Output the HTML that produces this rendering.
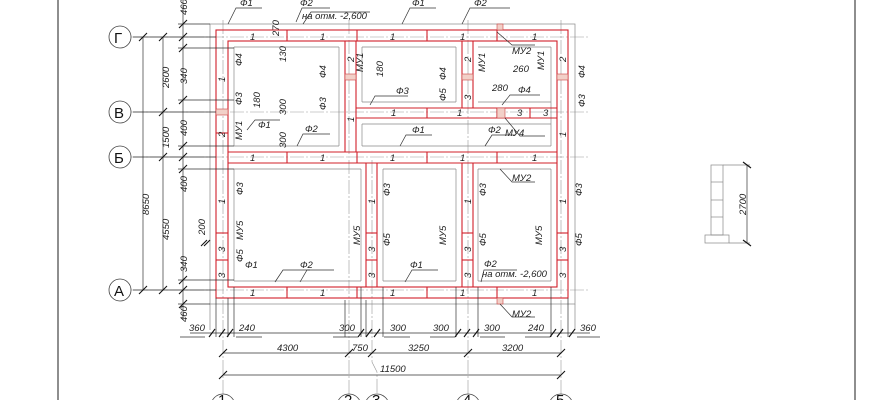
<!DOCTYPE html>
<html><head><meta charset="utf-8"><style>
html,body{margin:0;padding:0;background:#fff;}
svg{display:block}
text{font-family:"Liberation Sans",sans-serif;font-style:italic;font-size:9.5px;fill:#222}
text.b{font-size:15px;font-style:normal;fill:#111}
.g{stroke:#888;stroke-width:0.7;fill:none}
.k{stroke:#333;stroke-width:0.7;fill:none}
.r{stroke:#d0202a;stroke-width:1.1;fill:none}
.t{stroke:#111;stroke-width:1.1}
.ax{stroke:#999;stroke-width:0.6;stroke-dasharray:14 2 2 2;fill:none}
.h{fill:#f2d0c8;stroke:#c44;stroke-width:0.6}
</style></head><body>
<svg width="870" height="400" viewBox="0 0 870 400" xmlns="http://www.w3.org/2000/svg">
<line x1="58" y1="0" x2="58" y2="400" stroke="#444" stroke-width="1.2"/>
<line x1="855" y1="0" x2="855" y2="400" stroke="#444" stroke-width="1.2"/>

<line class="ax" x1="130" y1="37" x2="590" y2="37"/>
<line class="ax" x1="130" y1="112" x2="590" y2="112"/>
<line class="ax" x1="130" y1="157" x2="590" y2="157"/>
<line class="ax" x1="130" y1="290" x2="590" y2="290"/>
<line class="ax" x1="223" y1="20" x2="223" y2="395"/>
<line class="ax" x1="349" y1="20" x2="349" y2="395"/>
<polyline class="ax" points="372,160 372,362 377,372 377,395"/>
<line class="ax" x1="468" y1="20" x2="468" y2="395"/>
<line class="ax" x1="561" y1="20" x2="561" y2="395"/>

<g class="g">
<rect x="210" y="24" width="365" height="280"/>
<line x1="234" y1="47" x2="234" y2="146"/><line x1="339" y1="47" x2="339" y2="146"/>
<line x1="234" y1="169" x2="234" y2="281"/><line x1="361" y1="169" x2="361" y2="281"/>
<line x1="234" y1="47" x2="339" y2="47"/><line x1="234" y1="146" x2="339" y2="146"/>
<line x1="234" y1="169" x2="361" y2="169"/><line x1="234" y1="281" x2="361" y2="281"/>
<line x1="362" y1="47" x2="456" y2="47"/><line x1="362" y1="102" x2="456" y2="102"/><line x1="362" y1="47" x2="362" y2="102"/><line x1="456" y1="47" x2="456" y2="102"/>
<line x1="478" y1="47" x2="551" y2="47"/><line x1="478" y1="102" x2="551" y2="102"/><line x1="551" y1="47" x2="551" y2="146"/>
<line x1="362" y1="124" x2="551" y2="124"/><line x1="362" y1="146" x2="551" y2="146"/><line x1="362" y1="124" x2="362" y2="146"/>
<line x1="383" y1="169" x2="456" y2="169"/><line x1="383" y1="281" x2="456" y2="281"/><line x1="383" y1="169" x2="383" y2="281"/><line x1="456" y1="169" x2="456" y2="281"/>
<line x1="478" y1="169" x2="551" y2="169"/><line x1="478" y1="281" x2="551" y2="281"/><line x1="478" y1="169" x2="478" y2="281"/><line x1="551" y1="169" x2="551" y2="281"/>
<line x1="210" y1="330" x2="210" y2="304"/><line x1="575" y1="330" x2="575" y2="304"/>
</g>

<g class="r">
<rect x="216" y="30" width="352" height="268"/>
<rect x="228" y="41" width="329" height="246"/>
<line x1="287" y1="30" x2="287" y2="41"/><line x1="357" y1="30" x2="357" y2="41"/><line x1="427" y1="30" x2="427" y2="41"/><line x1="497" y1="30" x2="497" y2="41"/>
<line x1="228" y1="152" x2="557" y2="152"/><line x1="228" y1="163" x2="557" y2="163"/>
<line x1="287" y1="152" x2="287" y2="163"/><line x1="357" y1="152" x2="357" y2="163"/><line x1="427" y1="152" x2="427" y2="163"/><line x1="497" y1="152" x2="497" y2="163"/>
<line x1="287" y1="287" x2="287" y2="298"/><line x1="357" y1="287" x2="357" y2="298"/><line x1="427" y1="287" x2="427" y2="298"/><line x1="497" y1="287" x2="497" y2="298"/>
<line x1="356" y1="108" x2="557" y2="108"/><line x1="356" y1="118" x2="557" y2="118"/>
<line x1="427" y1="108" x2="427" y2="118"/><line x1="497" y1="108" x2="497" y2="118"/><line x1="530" y1="108" x2="530" y2="118"/>
<line x1="345" y1="41" x2="345" y2="152"/><line x1="356" y1="41" x2="356" y2="152"/>
<line x1="462" y1="41" x2="462" y2="108"/><line x1="473" y1="41" x2="473" y2="108"/>
<line x1="366" y1="163" x2="366" y2="287"/><line x1="377" y1="163" x2="377" y2="287"/>
<line x1="462" y1="163" x2="462" y2="287"/><line x1="473" y1="163" x2="473" y2="287"/>
<line x1="216" y1="133" x2="228" y2="133"/><line x1="216" y1="233" x2="228" y2="233"/><line x1="216" y1="260" x2="228" y2="260"/>
<line x1="366" y1="233" x2="377" y2="233"/><line x1="366" y1="260" x2="377" y2="260"/>
<line x1="462" y1="233" x2="473" y2="233"/><line x1="462" y1="260" x2="473" y2="260"/>
<line x1="557" y1="233" x2="568" y2="233"/><line x1="557" y1="260" x2="568" y2="260"/>
<line x1="345" y1="77" x2="356" y2="77"/><line x1="462" y1="77" x2="473" y2="77"/><line x1="557" y1="77" x2="568" y2="77"/>
</g>
<rect class="h" x="216" y="109" width="12" height="6"/>
<rect class="h" x="345" y="74" width="11" height="6"/>
<rect class="h" x="462" y="74" width="11" height="6"/>
<rect class="h" x="557" y="74" width="11" height="6"/>
<rect class="h" x="497" y="108" width="8" height="10"/>
<rect class="h" x="497" y="24" width="6" height="6"/>
<rect class="h" x="497" y="298" width="6" height="6"/>

<g>
<text x="250" y="40">1</text><text x="320" y="40">1</text><text x="390" y="40">1</text><text x="460" y="40">1</text><text x="532" y="40">1</text>
<text x="250" y="161">1</text><text x="320" y="161">1</text><text x="390" y="161">1</text><text x="460" y="161">1</text><text x="532" y="161">1</text>
<text x="250" y="296">1</text><text x="320" y="296">1</text><text x="390" y="296">1</text><text x="460" y="296">1</text><text x="532" y="296">1</text>
<text x="391" y="116">1</text><text x="457" y="116">1</text><text x="517" y="116">3</text><text x="543" y="116">3</text>
</g>
<g>
<text transform="translate(225,82) rotate(-90)">1</text>
<text transform="translate(225,137) rotate(-90)">2</text>
<text transform="translate(225,204) rotate(-90)">1</text>
<text transform="translate(225,252) rotate(-90)">3</text>
<text transform="translate(225,278) rotate(-90)">3</text>
<text transform="translate(354,62) rotate(-90)">2</text>
<text transform="translate(354,122) rotate(-90)">1</text>
<text transform="translate(471,62) rotate(-90)">2</text>
<text transform="translate(471,100) rotate(-90)">3</text>
<text transform="translate(566,62) rotate(-90)">2</text>
<text transform="translate(566,137) rotate(-90)">1</text>
<text transform="translate(375,204) rotate(-90)">1</text><text transform="translate(375,252) rotate(-90)">3</text><text transform="translate(375,278) rotate(-90)">3</text>
<text transform="translate(471,204) rotate(-90)">1</text><text transform="translate(471,252) rotate(-90)">3</text><text transform="translate(471,278) rotate(-90)">3</text>
<text transform="translate(566,204) rotate(-90)">1</text><text transform="translate(566,252) rotate(-90)">3</text><text transform="translate(566,278) rotate(-90)">3</text>
</g>

<g class="k">
<polyline points="228,24 236,8 262,8"/><polyline points="296,22 302,8 330,8"/>
<polyline points="303,24 311,12 370,12"/>
<polyline points="402,24 410,8 436,8"/><polyline points="462,24 470,8 510,8"/>
<polyline points="247,130 255,120 280,120"/><polyline points="297,146 303,134 330,134"/>
<polyline points="370,105 375,96 408,96"/><polyline points="400,146 406,135 432,135"/><polyline points="485,146 492,135 515,135"/>
<polyline points="502,105 510,95 540,95"/>
<polyline points="275,282 283,270 310,270"/><polyline points="300,282 307,270 334,270"/>
<polyline points="405,282 412,270 438,270"/><polyline points="481,282 484,270 517,270"/>
<polyline points="497,32 512,45 535,45"/><polyline points="505,118 520,136 545,136"/>
<polyline points="500,169 512,182 535,182"/><polyline points="500,304 512,317 535,317"/>
</g>
<g>
<text x="240" y="6">Ф1</text><text x="300" y="6">Ф2</text><text x="302" y="19">на отм. -2,600</text>
<text x="412" y="6">Ф1</text><text x="474" y="6">Ф2</text>
<text x="258" y="128">Ф1</text><text x="305" y="132">Ф2</text>
<text x="396" y="94">Ф3</text><text x="412" y="133">Ф1</text><text x="488" y="133">Ф2</text>
<text x="518" y="93">Ф4</text><text x="513" y="72">260</text><text x="492" y="91">280</text>
<text x="512" y="54">МУ2</text><text x="505" y="136">МУ4</text>
<text x="512" y="181">МУ2</text><text x="512" y="317">МУ2</text>
<text x="300" y="268">Ф2</text><text x="245" y="268">Ф1</text><text x="410" y="268">Ф1</text>
<text x="484" y="267">Ф2</text><text x="482" y="277">на отм. -2,600</text>
</g>
<g>
<text transform="translate(242,66) rotate(-90)">Ф4</text>
<text transform="translate(242,105) rotate(-90)">Ф3</text>
<text transform="translate(242,140) rotate(-90)">МУ1</text>
<text transform="translate(260,108) rotate(-90)">180</text>
<text transform="translate(286,62) rotate(-90)">130</text>
<text transform="translate(286,115) rotate(-90)">300</text>
<text transform="translate(286,148) rotate(-90)">300</text>
<text transform="translate(326,78) rotate(-90)">Ф4</text>
<text transform="translate(326,110) rotate(-90)">Ф3</text>
<text transform="translate(363,72) rotate(-90)">МУ1</text>
<text transform="translate(383,77) rotate(-90)">180</text>
<text transform="translate(446,80) rotate(-90)">Ф4</text>
<text transform="translate(446,101) rotate(-90)">Ф5</text>
<text transform="translate(485,72) rotate(-90)">МУ1</text>
<text transform="translate(544,70) rotate(-90)">МУ1</text>
<text transform="translate(585,78) rotate(-90)">Ф4</text>
<text transform="translate(585,107) rotate(-90)">Ф3</text>
<text transform="translate(243,195) rotate(-90)">Ф3</text>
<text transform="translate(243,240) rotate(-90)">МУ5</text>
<text transform="translate(243,262) rotate(-90)">Ф5</text>
<text transform="translate(360,245) rotate(-90)">МУ5</text>
<text transform="translate(390,196) rotate(-90)">Ф3</text>
<text transform="translate(390,246) rotate(-90)">Ф5</text>
<text transform="translate(446,245) rotate(-90)">МУ5</text>
<text transform="translate(486,196) rotate(-90)">Ф3</text>
<text transform="translate(486,246) rotate(-90)">Ф5</text>
<text transform="translate(542,245) rotate(-90)">МУ5</text>
<text transform="translate(582,196) rotate(-90)">Ф3</text>
<text transform="translate(582,246) rotate(-90)">Ф5</text>
<text transform="translate(279,36) rotate(-90)">270</text>
</g>

<g class="k">
<line x1="143" y1="37" x2="143" y2="290"/><line x1="163" y1="37" x2="163" y2="290"/><line x1="183" y1="0" x2="183" y2="320"/>
<line x1="133" y1="37" x2="216" y2="37"/><line x1="133" y1="112" x2="216" y2="112"/><line x1="133" y1="157" x2="216" y2="157"/><line x1="133" y1="290" x2="216" y2="290"/>
<line x1="178" y1="24" x2="210" y2="24"/><line x1="178" y1="48" x2="234" y2="48"/><line x1="178" y1="146" x2="234" y2="146"/><line x1="178" y1="169" x2="234" y2="169"/><line x1="178" y1="280" x2="234" y2="280"/><line x1="178" y1="304" x2="210" y2="304"/><line x1="178" y1="100" x2="234" y2="100"/>
</g>
<g class="t">
<line x1="139" y1="41" x2="147" y2="33"/><line x1="139" y1="294" x2="147" y2="286"/>
<line x1="159" y1="41" x2="167" y2="33"/><line x1="159" y1="116" x2="167" y2="108"/><line x1="159" y1="161" x2="167" y2="153"/><line x1="159" y1="294" x2="167" y2="286"/>
<line x1="179" y1="28" x2="187" y2="20"/><line x1="179" y1="41" x2="187" y2="33"/><line x1="179" y1="52" x2="187" y2="44"/><line x1="179" y1="104" x2="187" y2="96"/><line x1="179" y1="150" x2="187" y2="142"/><line x1="179" y1="161" x2="187" y2="153"/><line x1="179" y1="173" x2="187" y2="165"/><line x1="179" y1="284" x2="187" y2="276"/><line x1="179" y1="294" x2="187" y2="286"/><line x1="179" y1="308" x2="187" y2="300"/>
<line x1="201" y1="246" x2="207" y2="240"/><line x1="204" y1="246" x2="210" y2="240"/>
</g>
<g>
<text transform="translate(149,215) rotate(-90)">8650</text>
<text transform="translate(169,88) rotate(-90)">2600</text>
<text transform="translate(169,148) rotate(-90)">1500</text>
<text transform="translate(169,240) rotate(-90)">4550</text>
<text transform="translate(187,15) rotate(-90)">460</text>
<text transform="translate(187,84) rotate(-90)">340</text>
<text transform="translate(187,136) rotate(-90)">400</text>
<text transform="translate(187,192) rotate(-90)">400</text>
<text transform="translate(205,235) rotate(-90)">200</text>
<text transform="translate(187,272) rotate(-90)">340</text>
<text transform="translate(187,322) rotate(-90)">460</text>
</g>
<g fill="#fff" stroke="#444" stroke-width="0.8">
<circle cx="120" cy="37" r="11"/><circle cx="120" cy="112" r="11"/><circle cx="120" cy="157" r="11"/><circle cx="120" cy="290" r="11"/>
</g>
<text class="b" x="114" y="43">Г</text><text class="b" x="114" y="118">В</text><text class="b" x="114" y="163">Б</text><text class="b" x="114" y="296">А</text>

<g class="k">
<line x1="190" y1="333" x2="590" y2="333"/>
<line x1="223" y1="353" x2="561" y2="353"/>
<line x1="223" y1="375" x2="561" y2="375"/>
<line x1="216" y1="298" x2="216" y2="337"/><line x1="228" y1="298" x2="228" y2="337"/><line x1="234" y1="287" x2="234" y2="337"/>
<line x1="345" y1="300" x2="345" y2="337"/><line x1="361" y1="287" x2="361" y2="337"/><line x1="366" y1="300" x2="366" y2="337"/><line x1="383" y1="287" x2="383" y2="337"/>
<line x1="456" y1="287" x2="456" y2="337"/><line x1="478" y1="287" x2="478" y2="337"/>
<line x1="551" y1="287" x2="551" y2="337"/><line x1="568" y1="298" x2="568" y2="337"/>
</g>
<g class="t">
<line x1="209" y1="337" x2="215" y2="329"/><line x1="219" y1="337" x2="225" y2="329"/><line x1="227" y1="337" x2="233" y2="329"/>
<line x1="358" y1="337" x2="364" y2="329"/><line x1="366" y1="337" x2="372" y2="329"/><line x1="374" y1="337" x2="380" y2="329"/>
<line x1="455" y1="337" x2="461" y2="329"/><line x1="464" y1="337" x2="470" y2="329"/><line x1="473" y1="337" x2="479" y2="329"/>
<line x1="550" y1="337" x2="556" y2="329"/><line x1="557" y1="337" x2="563" y2="329"/><line x1="569" y1="337" x2="575" y2="329"/>
<line x1="219" y1="357" x2="227" y2="349"/><line x1="345" y1="357" x2="353" y2="349"/><line x1="368" y1="357" x2="376" y2="349"/><line x1="464" y1="357" x2="472" y2="349"/><line x1="557" y1="357" x2="565" y2="349"/>
<line x1="219" y1="379" x2="227" y2="371"/><line x1="557" y1="379" x2="565" y2="371"/>
</g>
<g>
<text x="189" y="331">360</text><text x="239" y="331">240</text>
<text x="339" y="331">300</text><text x="390" y="331">300</text>
<text x="433" y="331">300</text><text x="484" y="331">300</text>
<text x="528" y="331">240</text><text x="580" y="331">360</text>
<text x="277" y="351">4300</text><text x="352" y="351">750</text><text x="408" y="351">3250</text><text x="502" y="351">3200</text>
<text x="380" y="372">11500</text>
</g>
<g class="k"><line x1="180" y1="337" x2="205" y2="337"/><line x1="236" y1="337" x2="262" y2="337"/><line x1="333" y1="337" x2="358" y2="337"/><line x1="384" y1="337" x2="410" y2="337"/><line x1="430" y1="337" x2="455" y2="337"/><line x1="480" y1="337" x2="505" y2="337"/><line x1="525" y1="337" x2="550" y2="337"/><line x1="577" y1="337" x2="600" y2="337"/></g>
<g fill="#fff" stroke="#444" stroke-width="0.8">
<circle cx="223" cy="406" r="12"/><circle cx="349" cy="406" r="12"/><circle cx="377" cy="406" r="12"/><circle cx="468" cy="406" r="12"/><circle cx="561" cy="406" r="12"/>
</g>
<text class="b" x="218" y="405">1</text><text class="b" x="344" y="405">2</text><text class="b" x="372" y="405">3</text><text class="b" x="463" y="405">4</text><text class="b" x="556" y="405">5</text>

<g class="g">
<rect x="711" y="165" width="12" height="70"/>
<line x1="711" y1="182" x2="723" y2="182"/><line x1="711" y1="200" x2="723" y2="200"/><line x1="711" y1="217" x2="723" y2="217"/>
<rect x="705" y="235" width="24" height="8"/>
<line x1="723" y1="165" x2="750" y2="165"/><line x1="729" y1="243" x2="750" y2="243"/>
</g>
<line class="k" x1="747" y1="165" x2="747" y2="243"/>
<g class="t"><line x1="743" y1="162" x2="751" y2="168"/><line x1="743" y1="240" x2="751" y2="246"/></g>
<text transform="translate(746,215) rotate(-90)">2700</text>
</svg>
</body></html>
